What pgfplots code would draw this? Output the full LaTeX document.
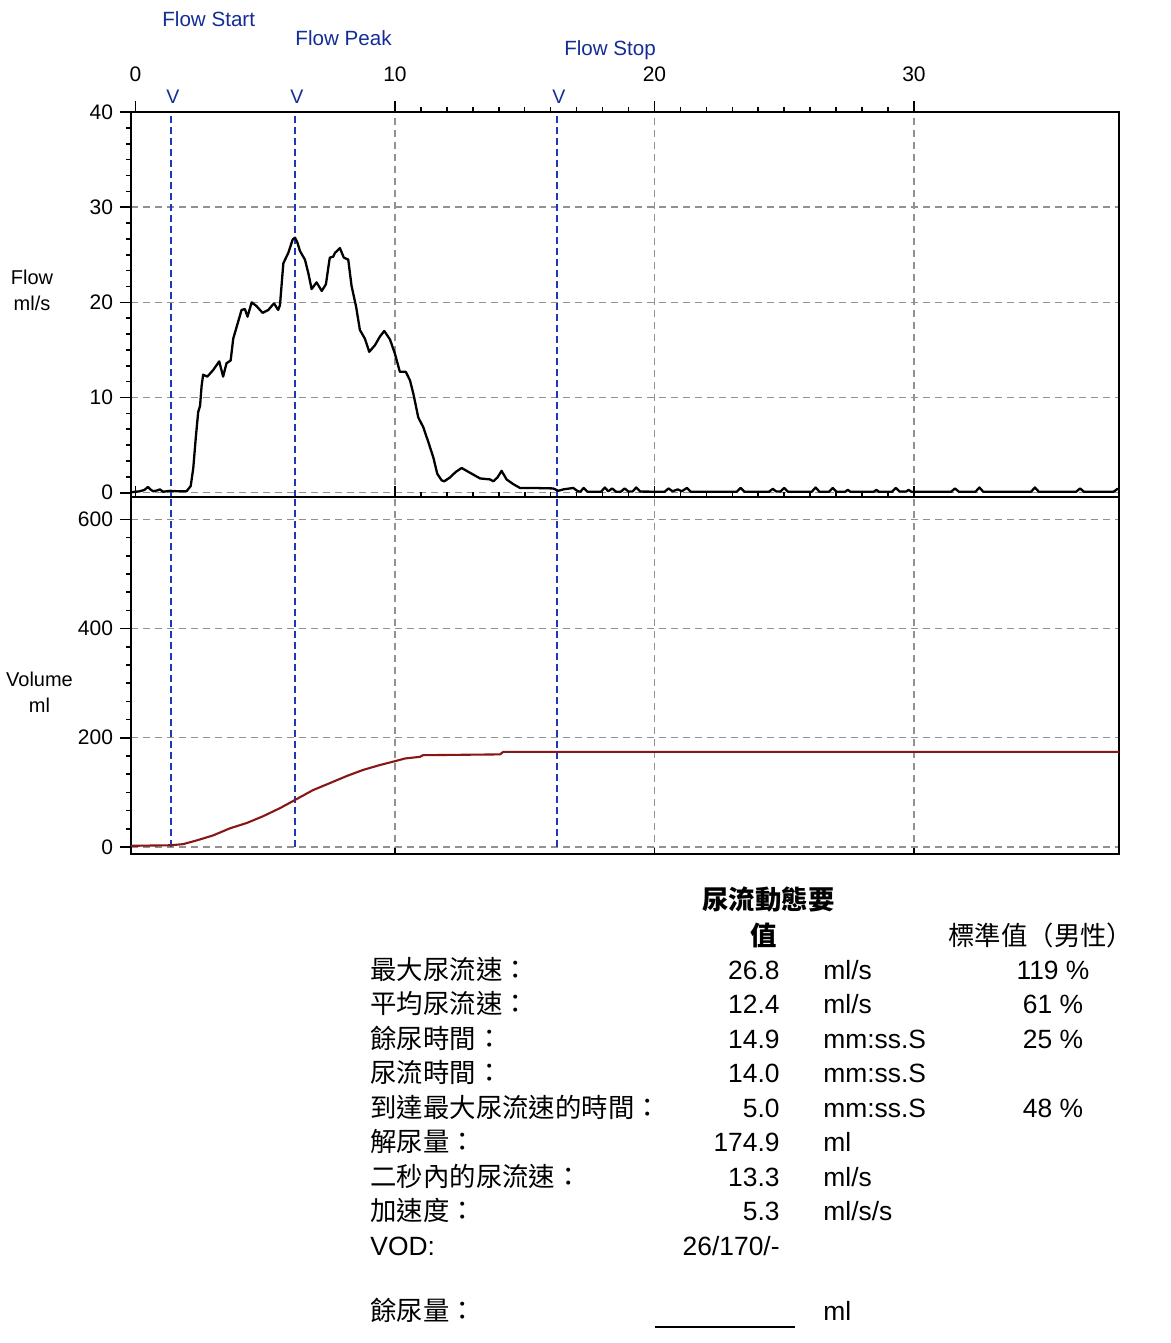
\documentclass[border=0pt]{standalone}
\usepackage{pgfplots}
\pgfplotsset{compat=1.18}
\usepackage{fontspec}
\setmainfont{Liberation Sans}
\newfontfamily\cjk{Noto Sans CJK TC}
\definecolor{mkblue}{RGB}{30,55,185}
\definecolor{txtblue}{RGB}{20,45,150}
\definecolor{volred}{RGB}{135,22,22}
\definecolor{gridgray}{RGB}{145,145,145}
\newcommand\tb{\fontsize{13.2bp}{16bp}\selectfont}
\newcommand\ax{\fontsize{10.5bp}{13bp}\selectfont}

\pgfplotstableread{
t f
-0.17 0.05
0.17 0.15
0.35 0.3
0.48 0.6
0.6 0.3
0.69 0.15
0.85 0.25
0.94 0.35
1.07 0.1
1.33 0.2
1.65 0.15
1.97 0.15
2.13 0.7
2.23 2.6
2.33 5.9
2.42 8.5
2.49 9.1
2.55 11.2
2.61 12.4
2.77 12.2
3.0 12.9
3.23 13.8
3.38 12.2
3.51 13.6
3.67 13.9
3.77 16.2
3.92 17.6
4.09 19.2
4.22 19.3
4.32 18.5
4.48 20.0
4.67 19.6
4.90 18.9
5.12 19.2
5.34 19.9
5.50 19.2
5.57 19.7
5.70 24.1
5.89 25.2
6.06 26.6
6.15 26.8
6.24 26.3
6.34 25.4
6.53 24.5
6.66 23.1
6.79 21.4
6.98 22.1
7.18 21.2
7.34 21.9
7.43 23.6
7.49 24.7
7.62 24.8
7.69 25.2
7.88 25.7
8.03 24.7
8.20 24.5
8.33 21.7
8.50 19.6
8.65 17.1
8.84 16.2
9.01 14.8
9.23 15.5
9.42 16.4
9.59 17.0
9.81 16.1
10.0 14.6
10.19 12.7
10.42 12.7
10.58 11.8
10.71 10.4
10.90 7.9
11.09 6.9
11.29 5.3
11.48 3.7
11.63 2.0
11.80 1.3
11.90 1.2
12.12 1.6
12.35 2.2
12.57 2.6
12.89 2.1
13.28 1.5
13.66 1.4
13.79 1.2
13.95 1.6
14.11 2.3
14.30 1.4
14.56 0.9
14.82 0.5
15.33 0.5
16.10 0.45
16.29 0.2
16.49 0.35
16.87 0.5
17.05 0.15
17.15 0.12
17.27 0.5
17.42 0.1
17.94 0.1
18.09 0.55
18.22 0.15
18.37 0.45
18.52 0.1
18.70 0.1
18.85 0.45
19.00 0.12
19.15 0.12
19.30 0.55
19.45 0.12
20.39 0.1
20.54 0.45
20.70 0.15
20.90 0.35
21.05 0.15
21.25 0.5
21.40 0.1
23.17 0.1
23.32 0.5
23.47 0.1
24.41 0.1
24.56 0.4
24.70 0.12
24.85 0.12
25.00 0.5
25.15 0.1
26.06 0.1
26.21 0.55
26.36 0.1
26.72 0.1
26.87 0.5
27.02 0.1
27.35 0.1
27.45 0.3
27.55 0.1
28.45 0.1
28.55 0.3
28.65 0.1
29.15 0.1
29.30 0.5
29.45 0.12
29.70 0.12
29.79 0.3
29.90 0.1
31.43 0.1
31.58 0.45
31.73 0.1
32.37 0.1
32.52 0.55
32.67 0.1
34.51 0.1
34.66 0.55
34.81 0.1
36.25 0.1
36.40 0.45
36.55 0.1
37.69 0.1
37.84 0.4
37.90 0.35
}\flowdata

\pgfplotstableread{
t v
-0.17 2
1.33 3
1.83 5
2.37 12
2.99 21
3.64 34
4.30 44
4.91 56
5.57 71
6.15 86
6.84 104
7.50 117
8.15 130
8.77 141
9.42 150
10.00 157
10.39 162
10.96 165
11.08 168
14.05 169.5
14.17 174
37.90 174
}\voldata

\pgfplotsset{
  mystyle/.style={
    scale only axis, width=494bp,
    xmin=-0.17, xmax=37.9,
    axis line style={line width=1.3bp},
    tick align=outside,
    major tick length=5.5bp, minor tick length=2.5bp,
    tick style={black, line width=0.8bp},
    xtick={10,20,30}, extra x ticks={0},
    extra x tick style={grid=none},
    minor x tick num=9, minor y tick num=5,
    grid=major,
    grid style={gridgray, line width=0.7bp, dash pattern=on 3.5bp off 2.5bp},
    ytick pos=left, xtick pos=right, xticklabel pos=right,
    ticklabel style={font=\ax},
    /pgf/number format/assume math mode=true,
    clip mode=individual,
  },
  vline/.style={mkblue, line width=1.1bp, dash pattern=on 3.5bp off 2bp},
}

\begin{document}
\begin{tikzpicture}
\useasboundingbox (0bp,0bp) rectangle (585.5bp,-671.5bp);

% top axis: flow
\begin{axis}[mystyle, at={(65.5bp,-56bp)}, anchor=north west, height=192.5bp,
  ymin=-0.45, ymax=40, ytick={0,10,20,30,40},
  xticklabel style={yshift=6bp}]
  \addplot[vline] coordinates {(1.37,-0.45) (1.37,40)};
  \addplot[vline] coordinates {(6.15,-0.45) (6.15,40)};
  \addplot[vline] coordinates {(16.24,-0.45) (16.24,40)};
  \addplot[black, line width=1.15bp, line join=round] table[x=t, y=f] {\flowdata};
  \node[txtblue, anchor=base, font=\fontsize{9.8bp}{11bp}\selectfont, inner sep=0pt, xshift=1bp, yshift=4.5bp] at (axis cs:1.37,40) {V};
  \node[txtblue, anchor=base, font=\fontsize{9.8bp}{11bp}\selectfont, inner sep=0pt, xshift=1bp, yshift=4.5bp] at (axis cs:6.15,40) {V};
  \node[txtblue, anchor=base, font=\fontsize{9.8bp}{11bp}\selectfont, inner sep=0pt, xshift=1bp, yshift=4.5bp] at (axis cs:16.24,40) {V};
  \node[txtblue, anchor=base west, font=\fontsize{10.3bp}{13bp}\selectfont, inner sep=0pt, xshift=-4.5bp, yshift=43bp] at (axis cs:1.37,40) {Flow Start};
  \node[txtblue, anchor=base west, font=\fontsize{10.3bp}{13bp}\selectfont, inner sep=0pt, xshift=0bp, yshift=33.5bp] at (axis cs:6.15,40) {Flow Peak};
  \node[txtblue, anchor=base west, font=\fontsize{10.3bp}{13bp}\selectfont, inner sep=0pt, xshift=3.5bp, yshift=28.5bp] at (axis cs:16.24,40) {Flow Stop};
\end{axis}

% bottom axis: volume
\begin{axis}[mystyle, at={(65.5bp,-248.5bp)}, anchor=north west, height=178.5bp,
  ymin=-13, ymax=641, ytick={0,200,400,600},
  xticklabels={}, extra x tick labels={}]
  \addplot[vline] coordinates {(1.37,0) (1.37,641)};
  \addplot[vline] coordinates {(6.15,0) (6.15,641)};
  \addplot[vline] coordinates {(16.24,0) (16.24,641)};
  \addplot[volred, line width=1.05bp] table[x=t, y=v] {\voldata};
\end{axis}

% inward ticks on the bottom edge of the volume panel
\begin{axis}[scale only axis, width=494bp, height=178.5bp,
  at={(65.5bp,-248.5bp)}, anchor=north west,
  xmin=-0.17, xmax=37.9, ymin=-13, ymax=641,
  axis x line*=bottom, axis y line=none,
  x axis line style={draw=none},
  xtick={10,20,30}, xticklabels={}, tick align=inside,
  major tick length=3bp, tick style={black, line width=0.8bp}]
\end{axis}

% axis titles
\node[align=center, font=\fontsize{10bp}{13bp}\selectfont] at (16bp,-145bp) {Flow\\ml/s};
\node[align=center, font=\fontsize{10bp}{13bp}\selectfont] at (19.75bp,-346.25bp) {Volume\\ml};

% summary table
\node[anchor=base west, inner sep=0pt, font=\tb\cjk\bfseries] at (351bp,-454.5bp) {尿流動態要};
\node[anchor=base west, inner sep=0pt, font=\tb\cjk\bfseries] at (375bp,-472.5bp) {值};
\node[anchor=base west, inner sep=0pt, font=\tb\cjk] at (474bp,-472.5bp) {標準值（男性）};

\foreach \lab/\val/\unit/\pct/\yy in {
  最大尿流速：/26.8/ml\slash s/119 \%/-489.5,
  平均尿流速：/12.4/ml\slash s/61 \%/-506.75,
  餘尿時間：/14.9/mm:ss.S/25 \%/-524,
  尿流時間：/14.0/mm:ss.S//-541.25,
  到達最大尿流速的時間：/5.0/mm:ss.S/48 \%/-558.5,
  解尿量：/174.9/ml//-575.75,
  二秒內的尿流速：/13.3/ml\slash s//-593,
  加速度：/5.3/ml\slash s\slash s//-610.25}{
  \node[anchor=base west, inner sep=0pt, font=\tb\cjk] at (185bp,\yy bp) {\lab};
  \node[anchor=base east, inner sep=0pt, font=\tb] at (390bp,\yy bp) {\val};
  \node[anchor=base west, inner sep=0pt, font=\tb] at (411.5bp,\yy bp) {\unit};
  \node[anchor=base, inner sep=0pt, font=\tb] at (526.5bp,\yy bp) {\pct};
}
\node[anchor=base west, inner sep=0pt, font=\tb] at (185bp,-627.5bp) {VOD:};
\node[anchor=base east, inner sep=0pt, font=\tb] at (390bp,-627.5bp) {26/170/-};
\node[anchor=base west, inner sep=0pt, font=\tb\cjk] at (185bp,-660bp) {餘尿量：};
\draw[line width=1bp] (327.5bp,-663.5bp) -- (397.5bp,-663.5bp);
\node[anchor=base west, inner sep=0pt, font=\tb] at (411.5bp,-660bp) {ml};
\end{tikzpicture}
\end{document}
